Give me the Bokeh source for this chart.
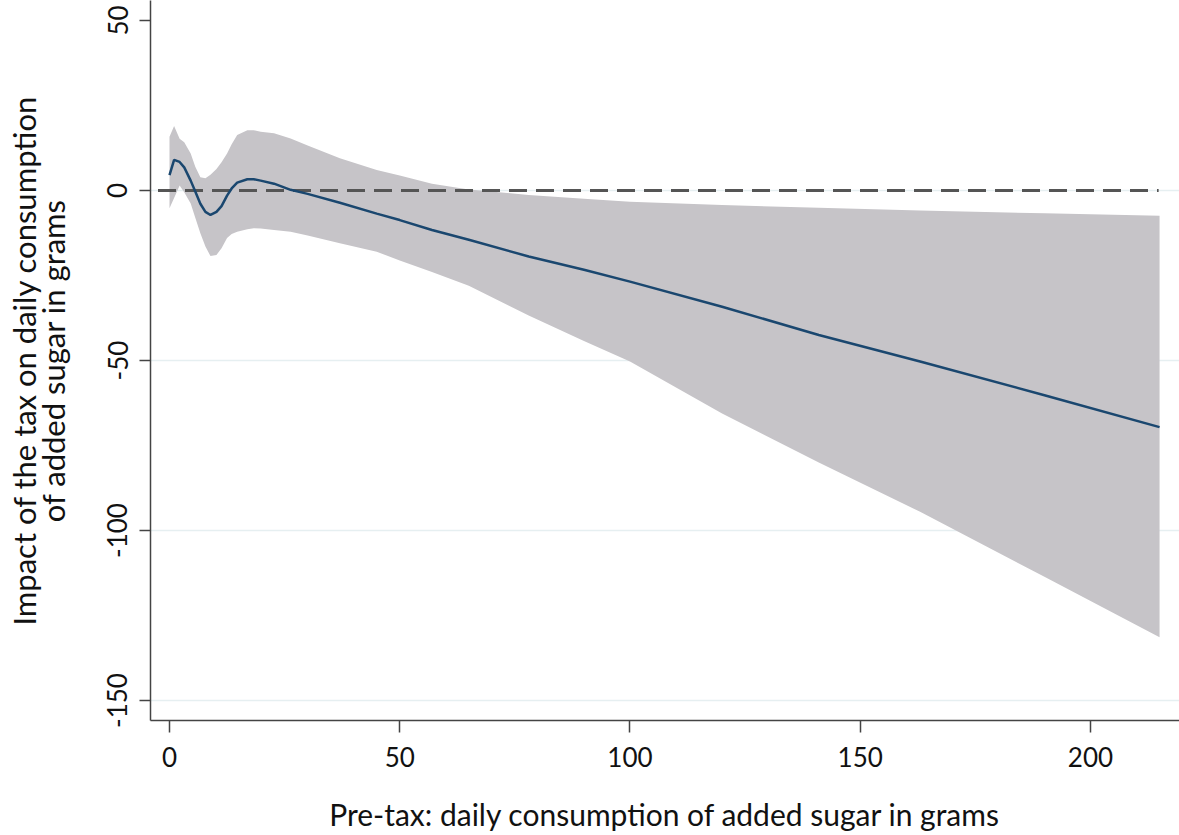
from bokeh.plotting import figure
from bokeh.models import Range1d, FixedTicker, ColumnDataSource, LinearAxis
from bokeh.embed import file_html
from bokeh.resources import INLINE

# ---- data ----
sugar_pre = [0, 1, 2.2, 3.2, 4.6, 5.6, 6.7, 7.8, 8.9, 10.2, 11.3, 12.5, 13.5, 14.7,
             16.9, 18.3, 19.8, 22.7, 26.3, 30, 37, 45, 50, 57, 65, 78, 90, 100,
             120, 141, 163, 190, 215]
effect = [4.5, 9.0, 8.4, 6.8, 2.9, -0.3, -3.9, -6.3, -7.2, -6.3, -4.6, -1.5, 0.6, 2.3,
          3.3, 3.3, 2.9, 2.0, 0.2, -1.0, -3.6, -6.8, -8.7, -11.6, -14.5, -19.4, -23.3, -26.8,
          -34.2, -42.5, -50.3, -60.2, -69.6]
ci_upper = [15.8, 19.0, 15.2, 14.2, 10.9, 7.0, 3.9, 3.6, 4.6, 6.3, 8.3, 10.9, 13.6, 16.3,
            17.7, 17.7, 17.3, 16.8, 15.3, 13.2, 9.5, 6.0, 4.4, 2.0, 0.3, -1.3, -2.4, -3.3,
            -4.3, -5.1, -5.9, -6.7, -7.4]
ci_lower = [-5.2, -2.2, 1.5, -0.5, -3.8, -8.0, -12.6, -16.5, -19.3, -19.0, -17.0, -14.0, -12.8, -12.1,
            -11.4, -11.1, -11.2, -11.6, -12.1, -13.2, -15.5, -18.0, -20.6, -24.0, -28.0, -36.8, -44.3, -50.3,
            -65.6, -80.0, -94.5, -113.6, -131.4]
x_ticks = [0, 50, 100, 150, 200]
y_ticks = [50, 0, -50, -100, -150]
grid_y = [0, -50, -100, -150]
ref_x = [-2.5, 214.8]
ref_y = [0, 0]
x_title = "Pre-tax: daily consumption of added sugar in grams"
y_title_line1 = "Impact of the tax on daily consumption"
y_title_line2 = "of added sugar in grams"

src = ColumnDataSource(dict(x=sugar_pre, y=effect, lo=ci_lower, hi=ci_upper))

FONT = "Lato"
TXT = "#111111"
AX = "#444444"

X0, X1 = -4.126, 219.33
Y0, Y1 = -155.88, 55.88

p = figure(width=1179, height=835,
           x_range=Range1d(X0, X1), y_range=Range1d(Y0, Y1),
           output_backend="svg", toolbar_location=None,
           min_border_left=150, min_border_top=0, min_border_right=0, min_border_bottom=115)

p.outline_line_color = None
p.background_fill_color = "white"
p.border_fill_color = "white"

p.varea(x="x", y1="lo", y2="hi", source=src, fill_color="#c6c4c8", fill_alpha=1.0)
p.line(ref_x, ref_y, line_color="#555555", line_width=3, line_dash="18 9")
p.line(x="x", y="y", source=src, line_color="#1a476f", line_width=2.5)

# grid
p.xgrid.visible = False
p.ygrid.ticker = FixedTicker(ticks=grid_y)
p.ygrid.grid_line_color = "#e6eff1"
p.ygrid.grid_line_width = 1.5

# x axis
xa = p.xaxis[0]
xa.ticker = FixedTicker(ticks=x_ticks)
xa.axis_label = x_title
xa.axis_label_text_font = FONT
xa.axis_label_text_font_style = "normal"
xa.axis_label_text_font_size = "30px"
xa.axis_label_text_color = TXT
xa.axis_label_standoff = 26
xa.major_label_text_font = FONT
xa.major_label_text_font_size = "26px"
xa.major_label_text_color = TXT
xa.major_label_standoff = 14
xa.major_tick_in = 0
xa.major_tick_out = 12
xa.minor_tick_in = 0
xa.minor_tick_out = 0
xa.axis_line_color = AX
xa.axis_line_width = 1.5
xa.major_tick_line_color = AX
xa.major_tick_line_width = 1.5

# y axis (ticks and tick labels only)
ya = p.yaxis[0]
ya.ticker = FixedTicker(ticks=y_ticks)
ya.major_label_overrides = {t: str(t) for t in y_ticks}
ya.major_label_text_font = FONT
ya.major_label_text_font_size = "26px"
ya.major_label_text_color = TXT
ya.major_label_orientation = "vertical"
ya.major_label_standoff = 12
ya.major_tick_in = 0
ya.major_tick_out = 11
ya.minor_tick_in = 0
ya.minor_tick_out = 0
ya.axis_line_color = AX
ya.axis_line_width = 1.5
ya.major_tick_line_color = AX
ya.major_tick_line_width = 1.5

# y-axis title: two lines, each carried by an invisible axis so it sits outside the frame
for text, standoff in [(y_title_line2, 33), (y_title_line1, -12)]:
    ax = LinearAxis(ticker=FixedTicker(ticks=[]), axis_label=text)
    ax.axis_label_text_font = FONT
    ax.axis_label_text_font_style = "normal"
    ax.axis_label_text_font_size = "31px"
    ax.axis_label_text_color = TXT
    ax.axis_label_standoff = standoff
    ax.axis_line_color = None
    ax.major_tick_line_color = None
    ax.minor_tick_line_color = None
    ax.major_tick_in = 0
    ax.major_tick_out = 0
    ax.minor_tick_in = 0
    ax.minor_tick_out = 0
    ax.major_label_standoff = 0
    p.add_layout(ax, "left")

open("out.html", "w").write(file_html(p, INLINE))
